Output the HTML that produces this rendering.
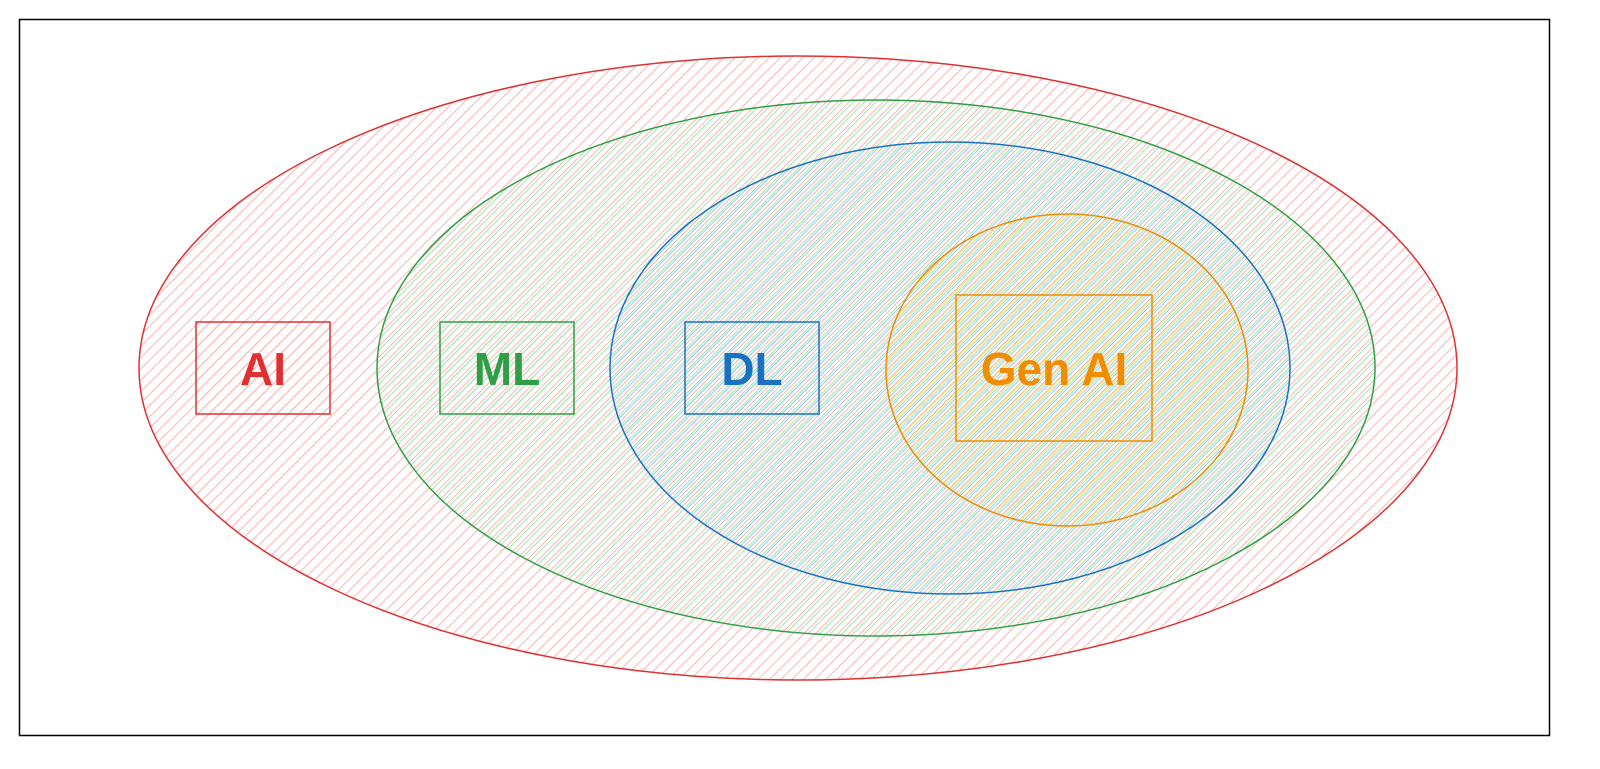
<!DOCTYPE html>
<html><head><style>html,body{margin:0;padding:0;background:#fff;overflow:hidden;width:1600px;height:769px}svg{display:block}</style></head>
<body>
<svg width="1600" height="769" viewBox="0 0 1600 769" xmlns="http://www.w3.org/2000/svg">
<defs>
<pattern id="pr" width="8" height="8" patternUnits="userSpaceOnUse" patternTransform="rotate(45)"><line x1="0" y1="0" x2="0" y2="8" stroke="#ffb3b3" stroke-width="2"/></pattern>
<pattern id="pg" width="8" height="8" patternUnits="userSpaceOnUse" patternTransform="rotate(45) translate(3,0)"><line x1="0" y1="0" x2="0" y2="8" stroke="#9ee6a8" stroke-width="2"/></pattern>
<pattern id="pb" width="8" height="8" patternUnits="userSpaceOnUse" patternTransform="rotate(45) translate(5,0)"><line x1="0" y1="0" x2="0" y2="8" stroke="#8fcdfa" stroke-width="2"/></pattern>
<pattern id="po" width="8" height="8" patternUnits="userSpaceOnUse" patternTransform="rotate(45) translate(1,0)"><line x1="0" y1="0" x2="0" y2="8" stroke="#ffe27a" stroke-width="2"/></pattern>
</defs>
<rect x="19.5" y="19.5" width="1530" height="716" fill="#fff" stroke="#000" stroke-width="1.5"/>
<ellipse cx="798" cy="368" rx="659" ry="312" fill="url(#pr)" stroke="#e03131" stroke-width="1.5"/>
<ellipse cx="876" cy="368" rx="499" ry="268" fill="url(#pg)" stroke="#2f9e44" stroke-width="1.5"/>
<ellipse cx="950" cy="368" rx="340" ry="226" fill="url(#pb)" stroke="#1971c2" stroke-width="1.5"/>
<ellipse cx="1067" cy="370" rx="181" ry="156" fill="url(#po)" stroke="#f08c00" stroke-width="1.5"/>
<rect x="196" y="322" width="134" height="92" fill="url(#pr)" stroke="#e03131" stroke-width="1.5"/>
<rect x="440" y="322" width="134" height="92" fill="url(#pg)" stroke="#2f9e44" stroke-width="1.5"/>
<rect x="685" y="322" width="134" height="92" fill="url(#pb)" stroke="#1971c2" stroke-width="1.5"/>
<rect x="956" y="295" width="196" height="146" fill="url(#po)" stroke="#f08c00" stroke-width="1.5"/>
<g font-family="Liberation Sans, sans-serif" font-weight="bold" font-size="46" text-anchor="middle">
<text x="263" y="385" fill="#e03131">AI</text>
<text x="507" y="385" fill="#2f9e44">ML</text>
<text x="752" y="385" fill="#1971c2">DL</text>
<text x="1054" y="385" fill="#f08c00">Gen AI</text>
</g>
</svg>
</body></html>
